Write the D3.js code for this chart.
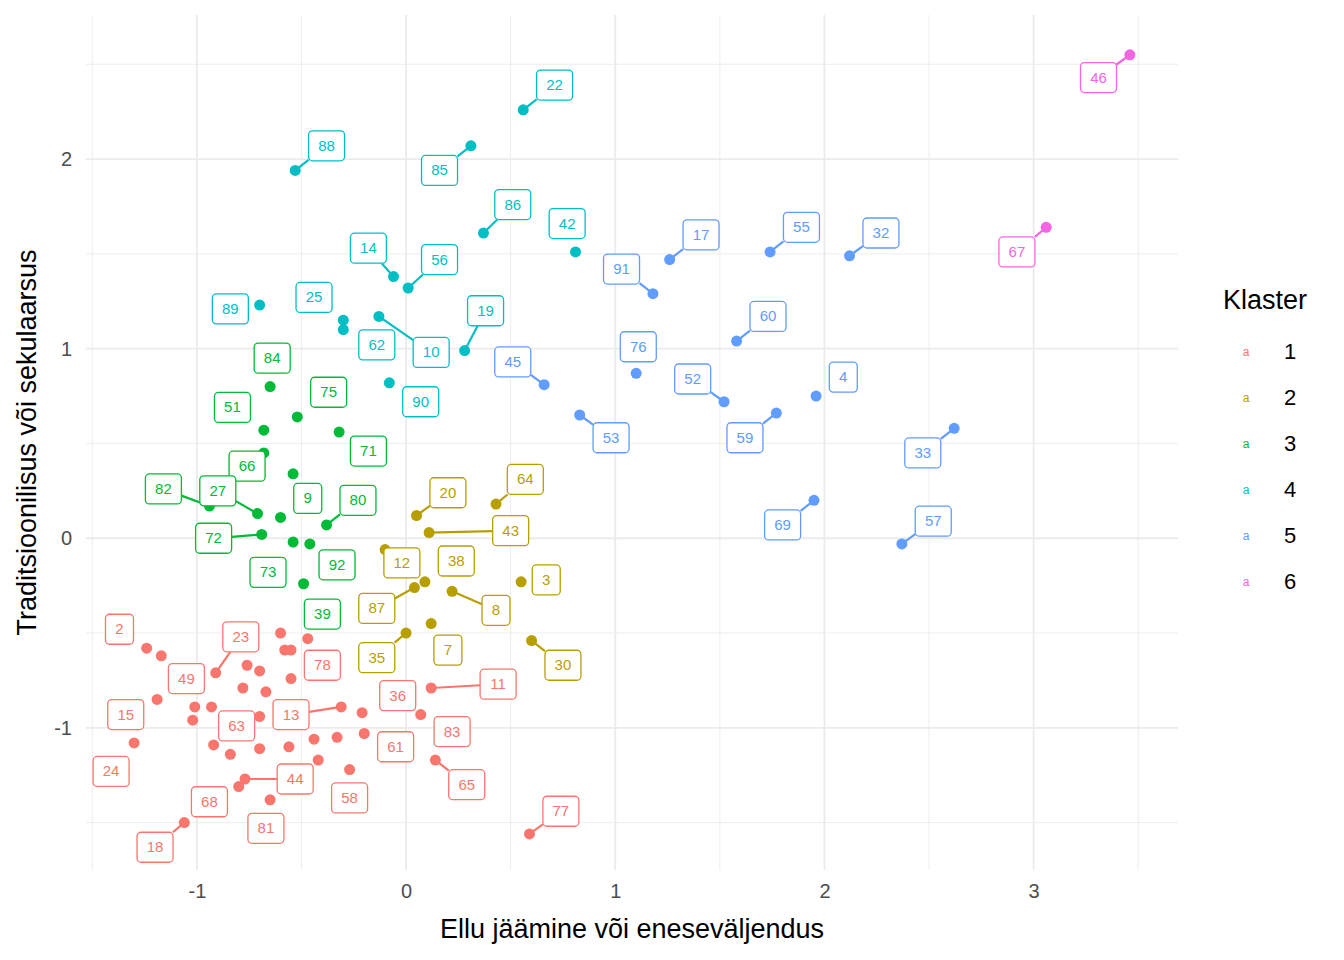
<!DOCTYPE html>
<html>
<head>
<meta charset="utf-8">
<script src="https://cdn.jsdelivr.net/npm/d3@7"></script>
<style>
  body { margin: 0; background: #fff; }
  text { font-family: "Liberation Sans", Arial, sans-serif; }
</style>
</head>
<body>
<svg id="chart" width="1344" height="960"></svg>
<script>
// point data: id, x, y, cluster
var ids = [
  2, 49, 23, 0, 0, 0, 0, 0, 0, 0, 0, 78, 15, 0, 0, 0, 63, 13, 36, 24, 0, 0, 0, 0, 0, 0, 61, 0, 58, 44, 68, 81, 18, 83, 11, 65, 77,
  20, 64, 43, 12, 38, 87, 3, 8, 7, 35, 30,
  84, 75, 51, 71, 66, 9, 82, 27, 0, 80, 72, 73, 92, 39,
  22, 88, 85, 86, 42, 14, 56, 89, 25, 62, 10, 19, 90,
  17, 55, 32, 91, 60, 76, 45, 52, 4, 53, 59, 33, 69, 57,
  46, 67
];
var xs = [
  -1.24, -1.17, -0.91, -0.76, -0.70, -0.78, -0.67, -0.60, -0.58, -0.55, -0.47, -0.55, -1.19, -1.01, -0.93, -1.02, -0.70, -0.31, -0.21, -1.30,
  -0.92, -0.84, -0.70, -0.56, -0.44, -0.33, -0.20, -0.42, -0.27, -0.77, -0.80, -0.65, -1.06, 0.07, 0.12, 0.14, 0.59,
  0.05, 0.43, 0.11, -0.10, 0.09, 0.04, 0.55, 0.22, 0.12, 0.00, 0.60,
  -0.65, -0.52, -0.68, -0.32, -0.68, -0.54, -0.94, -0.71, -0.60, -0.38, -0.69, -0.54, -0.46, -0.49,
  0.56, -0.53, 0.31, 0.37, 0.81, -0.06, 0.01, -0.70, -0.30, -0.30, -0.13, 0.28, -0.08,
  1.26, 1.74, 2.12, 1.18, 1.58, 1.10, 0.66, 1.52, 1.96, 0.83, 1.77, 2.62, 1.95, 2.37,
  3.46, 3.06
];
var ys = [
  -0.58, -0.62, -0.71, -0.67, -0.70, -0.79, -0.81, -0.50, -0.59, -0.59, -0.53, -0.74, -0.85, -0.89, -0.89, -0.96, -0.94, -0.89, -0.92, -1.08,
  -1.09, -1.14, -1.11, -1.10, -1.06, -1.05, -1.03, -1.17, -1.22, -1.27, -1.31, -1.38, -1.50, -0.93, -0.79, -1.17, -1.56,
  0.12, 0.18, 0.03, -0.06, -0.23, -0.26, -0.23, -0.28, -0.45, -0.50, -0.54,
  0.80, 0.64, 0.57, 0.56, 0.45, 0.34, 0.17, 0.13, 0.11, 0.07, 0.02, -0.02, -0.03, -0.24,
  2.26, 1.94, 2.07, 1.61, 1.51, 1.38, 1.32, 1.23, 1.15, 1.10, 1.17, 0.99, 0.82,
  1.47, 1.51, 1.49, 1.29, 1.04, 0.87, 0.81, 0.72, 0.75, 0.65, 0.66, 0.58, 0.20, -0.03,
  2.55, 1.64
];
var clusterSizes = [37, 11, 14, 13, 14, 2]; // points per cluster, in order above

// label positions (repelled), keyed by id
var labelIds = [2, 23, 49, 78, 15, 63, 13, 36, 11, 24, 61, 83, 44, 68, 58, 65, 81, 18, 77,
  20, 64, 43, 12, 38, 87, 3, 8, 7, 35, 30,
  84, 75, 51, 71, 66, 9, 82, 27, 80, 72, 73, 92, 39,
  22, 88, 85, 86, 42, 14, 56, 89, 25, 62, 10, 19, 90,
  17, 55, 32, 91, 60, 76, 45, 52, 4, 53, 59, 33, 69, 57,
  46, 67];
var labelX = [-1.37, -0.79, -1.05, -0.40, -1.34, -0.81, -0.55, -0.04, 0.44, -1.41, -0.05, 0.22, -0.53, -0.94, -0.27, 0.29, -0.67, -1.20, 0.74,
  0.20, 0.57, 0.50, -0.02, 0.24, -0.14, 0.67, 0.43, 0.20, -0.14, 0.75,
  -0.64, -0.37, -0.83, -0.18, -0.76, -0.47, -1.16, -0.90, -0.23, -0.92, -0.66, -0.33, -0.40,
  0.71, -0.38, 0.16, 0.51, 0.77, -0.18, 0.16, -0.84, -0.44, -0.14, 0.12, 0.38, 0.07,
  1.41, 1.89, 2.27, 1.03, 1.73, 1.11, 0.51, 1.37, 2.09, 0.98, 1.62, 2.47, 1.80, 2.52,
  3.31, 2.92];
var labelY = [-0.48, -0.52, -0.74, -0.67, -0.93, -0.99, -0.93, -0.83, -0.77, -1.23, -1.10, -1.02, -1.27, -1.39, -1.37, -1.30, -1.53, -1.63, -1.44,
  0.24, 0.31, 0.04, -0.13, -0.12, -0.37, -0.22, -0.38, -0.59, -0.63, -0.67,
  0.95, 0.77, 0.69, 0.46, 0.38, 0.21, 0.26, 0.25, 0.20, 0.00, -0.18, -0.14, -0.40,
  2.39, 2.07, 1.94, 1.76, 1.66, 1.53, 1.47, 1.21, 1.27, 1.02, 0.98, 1.20, 0.72,
  1.60, 1.64, 1.61, 1.42, 1.17, 1.01, 0.93, 0.84, 0.85, 0.53, 0.53, 0.45, 0.07, 0.09,
  2.43, 1.51];
var segIds = [23, 13, 11, 44, 65, 77, 18, 20, 64, 43, 87, 8, 35, 30, 82, 27, 80, 72,
  22, 88, 85, 86, 14, 56, 10, 19, 17, 55, 32, 91, 60, 45, 52, 53, 59, 33, 69, 57, 46, 67];

var xTicks = [-1, 0, 1, 2, 3];
var yTicks = [-1, 0, 1, 2];
var clusters = ["1", "2", "3", "4", "5", "6"];
var colors = ["#F8766D", "#B79F00", "#00BA38", "#00BFC4", "#619CFF", "#F564E3"];

var points = [];
var k = 0;
clusterSizes.forEach((n, c) => {
  for (var i = 0; i < n; i++, k++) points.push({id: ids[k], x: xs[k], y: ys[k], c: c});
});

var svg = d3.select("#chart");
var pLeft = 86, pRight = 1178, pTop = 15, pBottom = 870;
var x = d3.scaleLinear().domain([-1.53, 3.69]).range([pLeft, pRight]);
var y = d3.scaleLinear().domain([-1.75, 2.76]).range([pBottom, pTop]);

// grid
var g = svg.append("g");
d3.range(-1.5, 3.6, 0.5).forEach(v => {
  g.append("line").attr("x1", x(v)).attr("x2", x(v)).attr("y1", pTop).attr("y2", pBottom)
    .attr("stroke", "#ebebeb").attr("stroke-width", Number.isInteger(v) ? 1.8 : 0.9);
});
d3.range(-1.5, 2.6, 0.5).forEach(v => {
  g.append("line").attr("y1", y(v)).attr("y2", y(v)).attr("x1", pLeft).attr("x2", pRight)
    .attr("stroke", "#ebebeb").attr("stroke-width", Number.isInteger(v) ? 1.8 : 0.9);
});

// axes
var fmt = d => String(d);
var xAxis = svg.append("g").attr("transform", `translate(0,${pBottom})`)
  .call(d3.axisBottom(x).tickValues(xTicks).tickFormat(fmt).tickSize(0).tickPadding(14));
var yAxis = svg.append("g").attr("transform", `translate(${pLeft},0)`)
  .call(d3.axisLeft(y).tickValues(yTicks).tickFormat(fmt).tickSize(0).tickPadding(14));
[xAxis, yAxis].forEach(a => {
  a.select(".domain").remove();
  a.selectAll("text").attr("font-size", 20).attr("fill", "#4d4d4d")
    .style("font-family", "Liberation Sans, Arial, sans-serif");
});

svg.append("text").attr("x", (pLeft + pRight) / 2).attr("y", 938).attr("text-anchor", "middle")
  .attr("font-size", 27).text("Ellu jäämine või eneseväljendus");
svg.append("text").attr("transform", `translate(36,${(pTop + pBottom) / 2}) rotate(-90)`)
  .attr("text-anchor", "middle").attr("font-size", 27).text("Traditsioonilisus või sekulaarsus");

// labels + segments
var byId = {};
points.forEach(p => { if (p.id) byId[p.id] = p; });
var labels = labelIds.map((id, i) => ({id: id, lx: labelX[i], ly: labelY[i], p: byId[id]}));

var segG = svg.append("g"), ptG = svg.append("g"), labG = svg.append("g");

labels.forEach(l => {
  var w = String(l.id).length > 1 ? 36 : 28, h = 30;
  var cx = x(l.lx), cy = y(l.ly);
  var col = colors[l.p.c];
  if (segIds.includes(l.id)) {
    var px = x(l.p.x), py = y(l.p.y);
    var dx = px - cx, dy = py - cy;
    var t = Math.min(Math.abs((w / 2) / (dx || 1e-6)), Math.abs((h / 2) / (dy || 1e-6)), 1);
    segG.append("line").attr("x1", px).attr("y1", py)
      .attr("x2", cx + dx * t).attr("y2", cy + dy * t)
      .attr("stroke", col).attr("stroke-width", 2.2);
  }
  labG.append("rect").attr("x", cx - w / 2).attr("y", cy - h / 2).attr("width", w).attr("height", h)
    .attr("rx", 4).attr("fill", "white").attr("stroke", col).attr("stroke-width", 1.3);
  labG.append("text").attr("x", cx).attr("y", cy + 5).attr("text-anchor", "middle")
    .attr("font-size", 15).attr("fill", col).text(l.id);
});

ptG.selectAll("circle").data(points).join("circle")
  .attr("cx", d => x(d.x)).attr("cy", d => y(d.y)).attr("r", 5.5)
  .attr("fill", d => colors[d.c]);

// legend
var leg = svg.append("g");
leg.append("text").attr("x", 1223).attr("y", 309).attr("font-size", 27).text("Klaster");
clusters.forEach((c, i) => {
  var yy = 351 + i * 46;
  leg.append("text").attr("x", 1246).attr("y", yy + 5).attr("text-anchor", "middle")
    .attr("font-size", 12).attr("fill", colors[i]).text("a");
  leg.append("text").attr("x", 1284).attr("y", yy + 8).attr("font-size", 22).text(c);
});
</script>
</body>
</html>
